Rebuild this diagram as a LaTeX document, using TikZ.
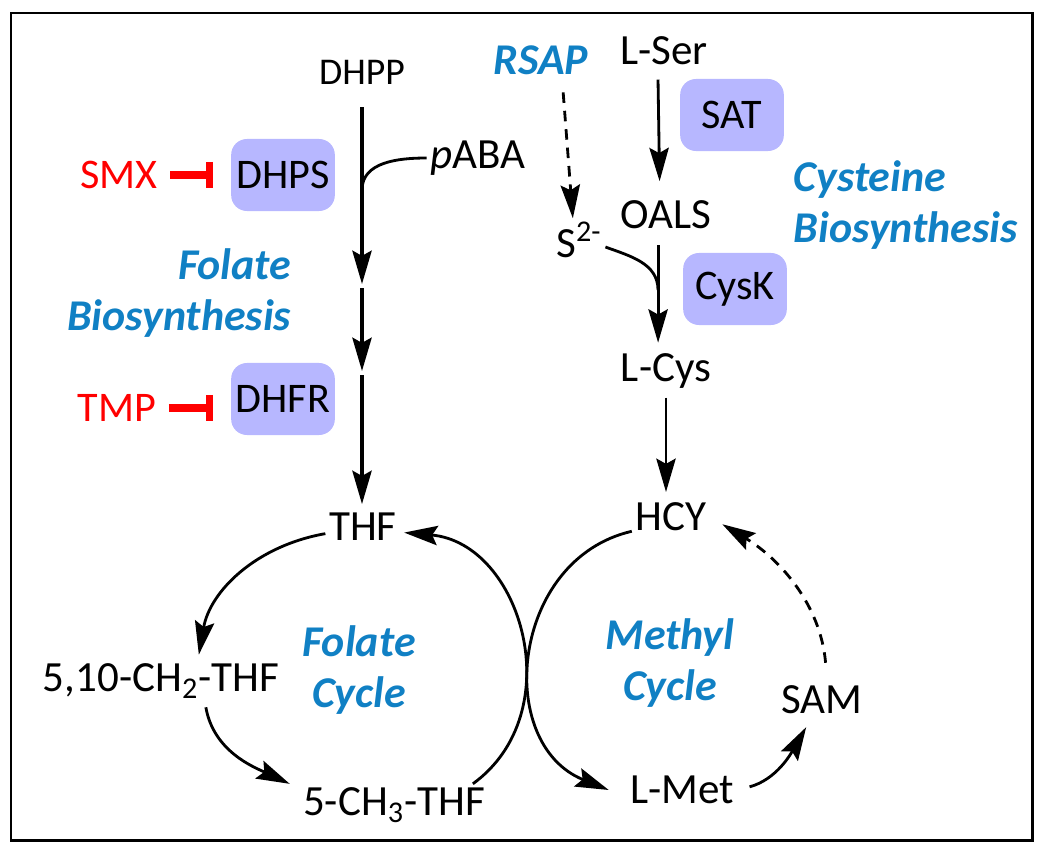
\documentclass[tikz,border=0pt]{standalone}
\usepackage{fontspec}
\setmainfont{Carlito}
\usetikzlibrary{arrows.meta}

\definecolor{enzfill}{RGB}{183,183,255}
\definecolor{pathblue}{RGB}{16,128,196}
\definecolor{drugred}{RGB}{255,0,0}

\tikzset{
  metab/.style={inner sep=2pt, font=\fontsize{24.5}{29}\selectfont},
  enzyme/.style={fill=enzfill, rounded corners=9pt, minimum width=59pt, minimum height=41pt, inner sep=2pt, font=\fontsize{24}{29}\selectfont},
  drug/.style={inner sep=2pt, text=drugred, font=\fontsize{24}{29}\selectfont},
  pathway/.style={inner sep=2pt, text=pathblue, font=\fontsize{25}{29.5}\selectfont\bfseries\itshape},
  reaction/.style={line width=1.6pt},
  flow/.style={reaction, -{Stealth[length=19pt, width=11pt, inset=3pt]}},
  inhibit/.style={drugred, line width=4pt, -{Bar[width=15pt]}},
}

\begin{document}
\begin{tikzpicture}[x=0.02cm, y=0.02cm]
  \useasboundingbox (0,0) rectangle (1044,853);
  \draw[line width=1.7pt] (11,13) rectangle (1032,840);

  % folate biosynthesis
  \node[metab, font=\fontsize{21.5}{25}\selectfont] (dhpp) at (362,781) {DHPP};
  \node[metab] (paba) at (478,695) {\textit{p}ABA};
  \node[enzyme] (dhps) at (283,678) {DHPS};
  \node[drug] (smx) at (119,678) {SMX};
  \node[enzyme] (dhfr) at (283,454) {DHFR};
  \node[drug] (tmp) at (117,445) {TMP};
  \node[pathway, align=right, anchor=east] (folbio) at (295,560) {Folate\\Biosynthesis};
  \coordinate (jp) at (362,663);
  \coordinate (j1) at (362,569);
  \coordinate (j2) at (362,482);

  % cysteine biosynthesis
  \node[pathway] (rsap) at (541,793) {RSAP};
  \node[metab] (lser) at (664,802) {L-Ser};
  \node[enzyme] (sat) at (732,738) {SAT};
  \node[metab] (oals) at (666,638) {OALS};
  \node[metab] (sul) at (579,613) {S\textsuperscript{2-}};
  \node[pathway, align=left, anchor=west] (cysbio) at (790,648) {Cysteine\\Biosynthesis};
  \node[enzyme] (cysk) at (735,564) {CysK};
  \node[metab] (lcys) at (666,482) {L-Cys};
  \coordinate (jc) at (658,563);

  % cycles
  \node[metab] (thf) at (363,326) {THF};
  \node[metab] (ch2) at (161,172) {5,10-CH\textsubscript{2}-THF};
  \node[metab] (ch3) at (394,48) {5-CH\textsubscript{3}-THF};
  \node[pathway, align=center] (folcyc) at (359,183) {Folate\\Cycle};
  \node[metab] (hcy) at (671,336) {HCY};
  \node[metab] (lmet) at (682,63) {L-Met};
  \node[metab] (sam) at (822,153) {SAM};
  \node[pathway, align=center] (metcyc) at (670,190) {Methyl\\Cycle};

  \draw[flow, line width=1.8pt, shorten <=11pt] (dhpp) -- (j1);
  \draw[flow, line width=1.8pt, shorten <=2.5pt] (j1) -- (j2);
  \draw[flow, line width=1.8pt, shorten <=2.5pt, shorten >=3pt] (j2) -- (j2 |- thf.north);
  \draw[reaction] (paba.west) to[out=180, in=90] (jp);
  \draw[inhibit, shorten <=5pt, shorten >=10pt] (smx.east) -- (smx.east -| dhps.west);
  \draw[inhibit, shorten <=5pt, shorten >=10pt] (tmp.east) -- (tmp.east -| dhfr.west);

  \draw[flow, dashed, dash pattern=on 6pt off 4.5pt, shorten <=8pt] ([xshift=12pt]rsap.south) -- ([xshift=-3.5pt]sul.north);
  \draw[flow, shorten <=6pt, shorten >=9pt] ([xshift=-3.5pt]lser.south) -- ([xshift=-3.5pt]oals.north);
  \draw[flow, shorten <=7pt, shorten >=4pt] ([xshift=-4.5pt]oals.south) -- ([xshift=-4.5pt]lcys.north);
  \draw[reaction] ([yshift=-4pt]sul.east) to[out=-20, in=90] (jc);
  \draw[flow, shorten <=3pt, shorten >=4pt] (lcys.south) -- (lcys.south |- hcy.north);

  \draw[flow, shorten >=3pt] (thf.190) to[out=190, in=80] ([xshift=21pt]ch2.north);
  \draw[flow, shorten <=3pt, shorten >=6pt] ([xshift=25pt]ch2.south) to[out=-80, in=155] (ch3.170);
  \draw[flow, shorten >=2pt] ([xshift=-9pt]ch3.north east) to[out=36, in=-5, looseness=1.19] (thf.-8);
  \draw[flow] (hcy.200) to[out=193, in=158, looseness=1.22] ([xshift=-10pt]lmet.west);
  \draw[flow, shorten <=7pt, shorten >=6pt] (lmet.east) to[out=15, in=-120] ([xshift=-6pt]sam.south);
  \draw[flow, dashed, dash pattern=on 6pt off 4.5pt, shorten <=11pt, shorten >=8pt] ([xshift=3pt]sam.north) to[out=95, in=-31] (hcy.east);
\end{tikzpicture}
\end{document}
